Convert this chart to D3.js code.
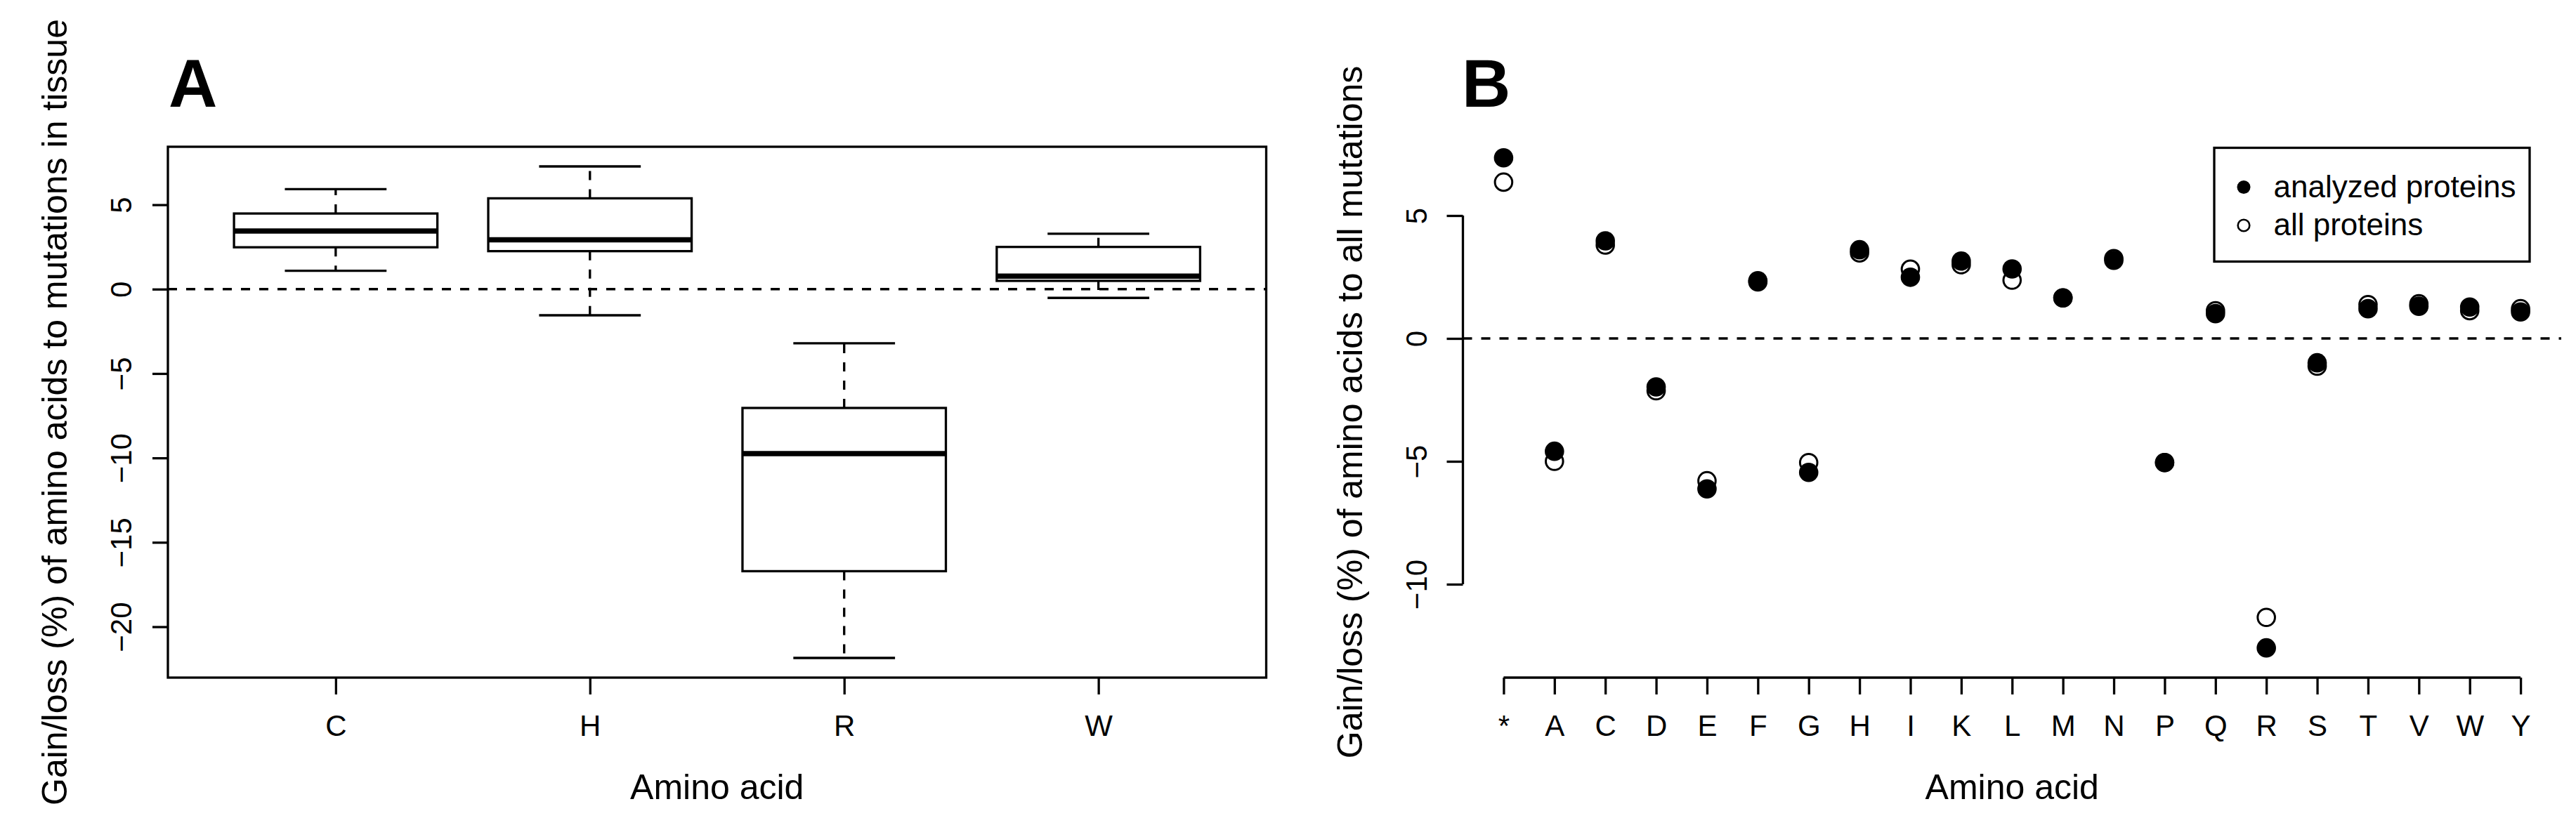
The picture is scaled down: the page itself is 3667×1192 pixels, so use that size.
<!DOCTYPE html>
<html>
<head>
<meta charset="utf-8">
<script src="https://cdn.jsdelivr.net/npm/d3@7"></script>
<style>
  html, body { margin: 0; padding: 0; background: #fff; }
  svg { display: block; }
  text { font-family: "Liberation Sans", Arial, Helvetica, sans-serif; fill: #000; }
</style>
</head>
<body>
<div id="chart"></div>
<script>
// Panel A: boxplot stats per amino acid (lower whisker, Q1, median, Q3, upper whisker)
const boxCategories = ['C', 'H', 'R', 'W'];
const boxLow    = [1.09, -1.55, -21.85, -0.52];
const boxQ1     = [2.48,  2.25, -16.71,  0.49];
const boxMedian = [3.44,  2.92,  -9.74,  0.77];
const boxQ3     = [4.48,  5.38,  -7.04,  2.50];
const boxHigh   = [5.92,  7.27,  -3.21,  3.28];
const boxYTicks = [-20, -15, -10, -5, 0, 5];

// Panel B: gain/loss per amino acid, two series
const aaCategories = ['*', 'A', 'C', 'D', 'E', 'F', 'G', 'H', 'I', 'K', 'L', 'M', 'N', 'P', 'Q', 'R', 'S', 'T', 'V', 'W', 'Y'];
const analyzedProteins = [7.35, -4.59, 3.97, -1.97, -6.12, 2.35, -5.45, 3.61, 2.49, 3.15, 2.83, 1.65, 3.18, -5.05, 1.01, -12.59, -0.99, 1.21, 1.31, 1.28, 1.08];
const allProteins      = [6.36, -5.00, 3.80, -2.13, -5.79, 2.30, -5.05, 3.48, 2.82, 3.00, 2.37, 1.65, 3.25, -5.05, 1.13, -11.35, -1.13, 1.38, 1.41, 1.13, 1.21];
const scatterYTicks = [-10, -5, 0, 5];
const scatterYLim = [-13, 7];

const legendLabels = ['analyzed proteins', 'all proteins'];

const W = 3667, H = 1192;
const LW = 3.3;            // base line width
const DASH = '13,13';
const fontAxis = 42, fontLab = 50, fontLegend = 44, fontPanel = 96;

const svg = d3.select('#chart').append('svg')
    .attr('width', W)
    .attr('height', H)
    .attr('viewBox', `0 0 ${W} ${H}`);
svg.append('rect').attr('width', W).attr('height', H).attr('fill', '#fff');

// R-style 4% axis extension
const extend = ([a, b]) => { const d = (b - a) * 0.04; return [a - d, b + d]; };

const plotTop = 209, plotBottom = 965;
const panelA = { left: 239, right: 1802.5 };
const panelB = { left: 2082.5, right: 3646 };

// Rotated y tick labels (R style, las = 0)
function styleYAxis(g) {
  g.select('.domain').remove();
  g.selectAll('.tick line').attr('stroke', '#000').attr('stroke-width', LW);
  g.selectAll('.tick text')
      .attr('x', null).attr('dy', null)
      .attr('text-anchor', 'middle')
      .attr('font-size', fontAxis)
      .attr('transform', 'translate(-52,0) rotate(-90)');
}

function styleXAxis(g) {
  g.select('.domain').remove();
  g.selectAll('.tick line').attr('stroke', '#000').attr('stroke-width', LW);
  g.selectAll('.tick text')
      .attr('y', 83).attr('dy', null)
      .attr('font-size', fontAxis);
}

// ---------------- Panel A ----------------
{
  const x = d3.scaleLinear().domain(extend([0.5, boxCategories.length + 0.5])).range([panelA.left, panelA.right]);
  const y = d3.scaleLinear().domain(extend([d3.min(boxLow), d3.max(boxHigh)])).range([plotBottom, plotTop]);
  const g = svg.append('g');

  // zero line
  g.append('line')
      .attr('x1', panelA.left).attr('x2', panelA.right)
      .attr('y1', y(0)).attr('y2', y(0))
      .attr('stroke', '#000').attr('stroke-width', LW).attr('stroke-dasharray', DASH);

  const boxes = g.append('g')
    .selectAll('g')
    .data(boxCategories.map((c, i) => ({ c, i: i + 1, lo: boxLow[i], q1: boxQ1[i], med: boxMedian[i], q3: boxQ3[i], hi: boxHigh[i] })))
    .join('g');

  const half = 0.4, cap = 0.2;
  // whiskers
  boxes.append('line')
      .attr('x1', d => x(d.i)).attr('x2', d => x(d.i))
      .attr('y1', d => y(d.q3)).attr('y2', d => y(d.hi))
      .attr('stroke', '#000').attr('stroke-width', LW).attr('stroke-dasharray', DASH);
  boxes.append('line')
      .attr('x1', d => x(d.i)).attr('x2', d => x(d.i))
      .attr('y1', d => y(d.q1)).attr('y2', d => y(d.lo))
      .attr('stroke', '#000').attr('stroke-width', LW).attr('stroke-dasharray', DASH);
  // staples
  ['lo', 'hi'].forEach(k => {
    boxes.append('line')
        .attr('x1', d => x(d.i - cap)).attr('x2', d => x(d.i + cap))
        .attr('y1', d => y(d[k])).attr('y2', d => y(d[k]))
        .attr('stroke', '#000').attr('stroke-width', LW);
  });
  // box
  boxes.append('rect')
      .attr('x', d => x(d.i - half))
      .attr('width', d => x(d.i + half) - x(d.i - half))
      .attr('y', d => y(d.q3))
      .attr('height', d => y(d.q1) - y(d.q3))
      .attr('fill', '#fff').attr('stroke', '#000').attr('stroke-width', LW);
  // median
  boxes.append('line')
      .attr('x1', d => x(d.i - half)).attr('x2', d => x(d.i + half))
      .attr('y1', d => y(d.med)).attr('y2', d => y(d.med))
      .attr('stroke', '#000').attr('stroke-width', 7.5);

  // frame
  g.append('rect')
      .attr('x', panelA.left).attr('y', plotTop)
      .attr('width', panelA.right - panelA.left).attr('height', plotBottom - plotTop)
      .attr('fill', 'none').attr('stroke', '#000').attr('stroke-width', LW);

  g.append('g')
      .attr('transform', `translate(${panelA.left},0)`)
      .call(d3.axisLeft(y).tickValues(boxYTicks).tickSize(22).tickFormat(d3.format('d')))
      .call(styleYAxis);

  g.append('g')
      .attr('transform', `translate(0,${plotBottom})`)
      .call(d3.axisBottom(x).tickValues(boxCategories.map((c, i) => i + 1)).tickSize(24).tickFormat(i => boxCategories[i - 1]))
      .call(styleXAxis);

  g.append('text')
      .attr('x', (panelA.left + panelA.right) / 2).attr('y', 1138)
      .attr('text-anchor', 'middle').attr('font-size', fontLab)
      .text('Amino acid');

  g.append('text')
      .attr('transform', `translate(95,${(plotTop + plotBottom) / 2}) rotate(-90)`)
      .attr('text-anchor', 'middle').attr('font-size', fontLab)
      .text('Gain/loss (%) of amino acids to mutations in tissue');

  g.append('text')
      .attr('x', 240).attr('y', 152)
      .attr('font-size', fontPanel).attr('font-weight', 'bold')
      .text('A');
}

// ---------------- Panel B ----------------
{
  const x = d3.scaleLinear().domain(extend([1, aaCategories.length])).range([panelB.left, panelB.right]);
  const y = d3.scaleLinear().domain(extend(scatterYLim)).range([plotBottom, plotTop]);
  const g = svg.append('g');

  g.append('line')
      .attr('x1', panelB.left).attr('x2', panelB.right)
      .attr('y1', y(0)).attr('y2', y(0))
      .attr('stroke', '#000').attr('stroke-width', LW).attr('stroke-dasharray', DASH);

  // open circles first, filled on top
  g.append('g')
    .selectAll('circle')
    .data(allProteins)
    .join('circle')
      .attr('cx', (d, i) => x(i + 1))
      .attr('cy', d => y(d))
      .attr('r', 12.3)
      .attr('fill', 'none').attr('stroke', '#000').attr('stroke-width', 3);

  g.append('g')
    .selectAll('circle')
    .data(analyzedProteins)
    .join('circle')
      .attr('cx', (d, i) => x(i + 1))
      .attr('cy', d => y(d))
      .attr('r', 13.8)
      .attr('fill', '#000');

  // axes (R style, no box)
  g.append('line')
      .attr('x1', panelB.left).attr('x2', panelB.left)
      .attr('y1', y(d3.max(scatterYTicks))).attr('y2', y(d3.min(scatterYTicks)))
      .attr('stroke', '#000').attr('stroke-width', LW);
  g.append('g')
      .attr('transform', `translate(${panelB.left},0)`)
      .call(d3.axisLeft(y).tickValues(scatterYTicks).tickSize(23).tickFormat(d3.format('d')))
      .call(styleYAxis);

  g.append('line')
      .attr('x1', x(1)).attr('x2', x(aaCategories.length))
      .attr('y1', plotBottom).attr('y2', plotBottom)
      .attr('stroke', '#000').attr('stroke-width', LW);
  g.append('g')
      .attr('transform', `translate(0,${plotBottom})`)
      .call(d3.axisBottom(x).tickValues(aaCategories.map((c, i) => i + 1)).tickSize(24).tickFormat(i => aaCategories[i - 1]))
      .call(styleXAxis);

  g.append('text')
      .attr('x', (panelB.left + panelB.right) / 2).attr('y', 1138)
      .attr('text-anchor', 'middle').attr('font-size', fontLab)
      .text('Amino acid');

  g.append('text')
      .attr('transform', `translate(1938.5,${(plotTop + plotBottom) / 2}) rotate(-90)`)
      .attr('text-anchor', 'middle').attr('font-size', fontLab)
      .text('Gain/loss (%) of amino acids to all mutations');

  g.append('text')
      .attr('x', 2081).attr('y', 152)
      .attr('font-size', fontPanel).attr('font-weight', 'bold')
      .text('B');

  // legend
  const lg = g.append('g').attr('transform', 'translate(3152,210.5)');
  lg.append('rect')
      .attr('width', 449).attr('height', 162)
      .attr('fill', '#fff').attr('stroke', '#000').attr('stroke-width', LW);
  const item = lg.selectAll('g.item')
    .data(legendLabels)
    .join('g')
      .attr('class', 'item')
      .attr('transform', (d, i) => `translate(0,${56 + i * 54.5})`);
  item.append('circle')
      .attr('cx', 42).attr('cy', 0)
      .attr('r', (d, i) => i === 0 ? 9.5 : 8.3)
      .attr('fill', (d, i) => i === 0 ? '#000' : 'none')
      .attr('stroke', (d, i) => i === 0 ? 'none' : '#000')
      .attr('stroke-width', 2.6);
  item.append('text')
      .attr('x', 84.5).attr('y', 14)
      .attr('font-size', fontLegend)
      .text(d => d);
}
</script>
</body>
</html>
